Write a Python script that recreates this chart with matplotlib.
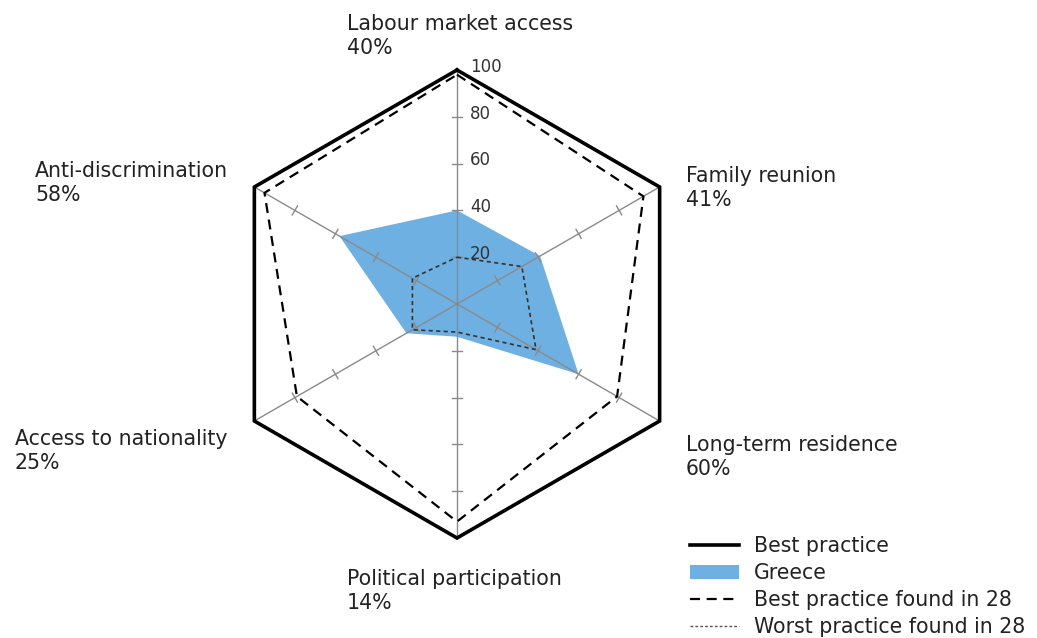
import numpy as np
import matplotlib.pyplot as plt
from matplotlib.lines import Line2D
from matplotlib.patches import Patch

categories = ['Labour market access', 'Family reunion', 'Long-term residence',
              'Political participation', 'Access to nationality', 'Anti-discrimination']
greece = [40, 41, 60, 14, 25, 58]
best_practice = [100, 100, 100, 100, 100, 100]
best_in_28 = [98, 92, 79, 93, 79, 95]
worst_in_28 = [20, 32, 39, 12, 22, 22]
tick_values = [20, 40, 60, 80, 100]

W, H = 1037, 638
cx, cy = 457, 304          # centre in pixels
scale = 2.34               # pixels per unit

fig = plt.figure(figsize=(W / 100, H / 100), dpi=100)
ax = fig.add_axes([0, 0, 1, 1])
ax.set_xlim(-cx / scale, (W - cx) / scale)
ax.set_ylim(-(H - cy) / scale, cy / scale)
ax.axis('off')

angles = np.arange(len(categories)) * np.pi / 3
dirs = np.column_stack([np.sin(angles), np.cos(angles)])


def to_xy(vals):
    v = np.asarray(vals, dtype=float)[:, None]
    pts = dirs * v
    return np.vstack([pts, pts[:1]])


blue = '#6fb0e2'
g = to_xy(greece)
ax.fill(g[:, 0], g[:, 1], color=blue, lw=0, zorder=1)

# spokes and tick marks
for d in dirs:
    ax.plot([0, d[0] * 100], [0, d[1] * 100], color='#8a8a8a', lw=1.0, zorder=2)
    n = np.array([-d[1], d[0]])
    for t in tick_values[:-1]:
        p = d * t
        ax.plot([p[0] - 2.2 * n[0], p[0] + 2.2 * n[0]],
                [p[1] - 2.2 * n[1], p[1] + 2.2 * n[1]], color='#8a8a8a', lw=1.0, zorder=2)

for t in tick_values:
    ax.text(5.5, t + 1.4, str(t), fontsize=12, color='#333333', va='center', ha='left', zorder=5)

w = to_xy(worst_in_28)
ax.plot(w[:, 0], w[:, 1], color='#333333', lw=1.2, dashes=(2.5, 2), zorder=3)
b28 = to_xy(best_in_28)
ax.plot(b28[:, 0], b28[:, 1], color='black', lw=1.6, dashes=(4.5, 3), zorder=3)
bp = to_xy(best_practice)
ax.plot(bp[:, 0], bp[:, 1], color='black', lw=2.6, solid_joinstyle='miter', zorder=4)

label_pos = [(347, 36), (686, 188), (686, 457), (347, 591), (15, 451), (35, 183)]
for cat, val, (px, py) in zip(categories, greece, label_pos):
    fig.text(px / W, 1 - py / H, f'{cat}\n{val}%', fontsize=14.8, color='#222222',
             ha='left', va='center', linespacing=1.2)

handles = [Line2D([], [], color='black', lw=2.6),
           Patch(facecolor=blue, edgecolor='none'),
           Line2D([], [], color='black', lw=1.6, dashes=(4.5, 3)),
           Line2D([], [], color='#555555', lw=1.0, dashes=(2, 1.5))]
labels = ['Best practice', 'Greece', 'Best practice found in 28', 'Worst practice found in 28']
fig.legend(handles, labels, loc='upper left', bbox_to_anchor=(690 / W, 1 - 536 / H),
           frameon=False, fontsize=14.8, handlelength=2.4, handletextpad=0.72,
           labelspacing=0.34, borderpad=0, borderaxespad=0, labelcolor='#222222')

fig.savefig('out.png', dpi=100)
